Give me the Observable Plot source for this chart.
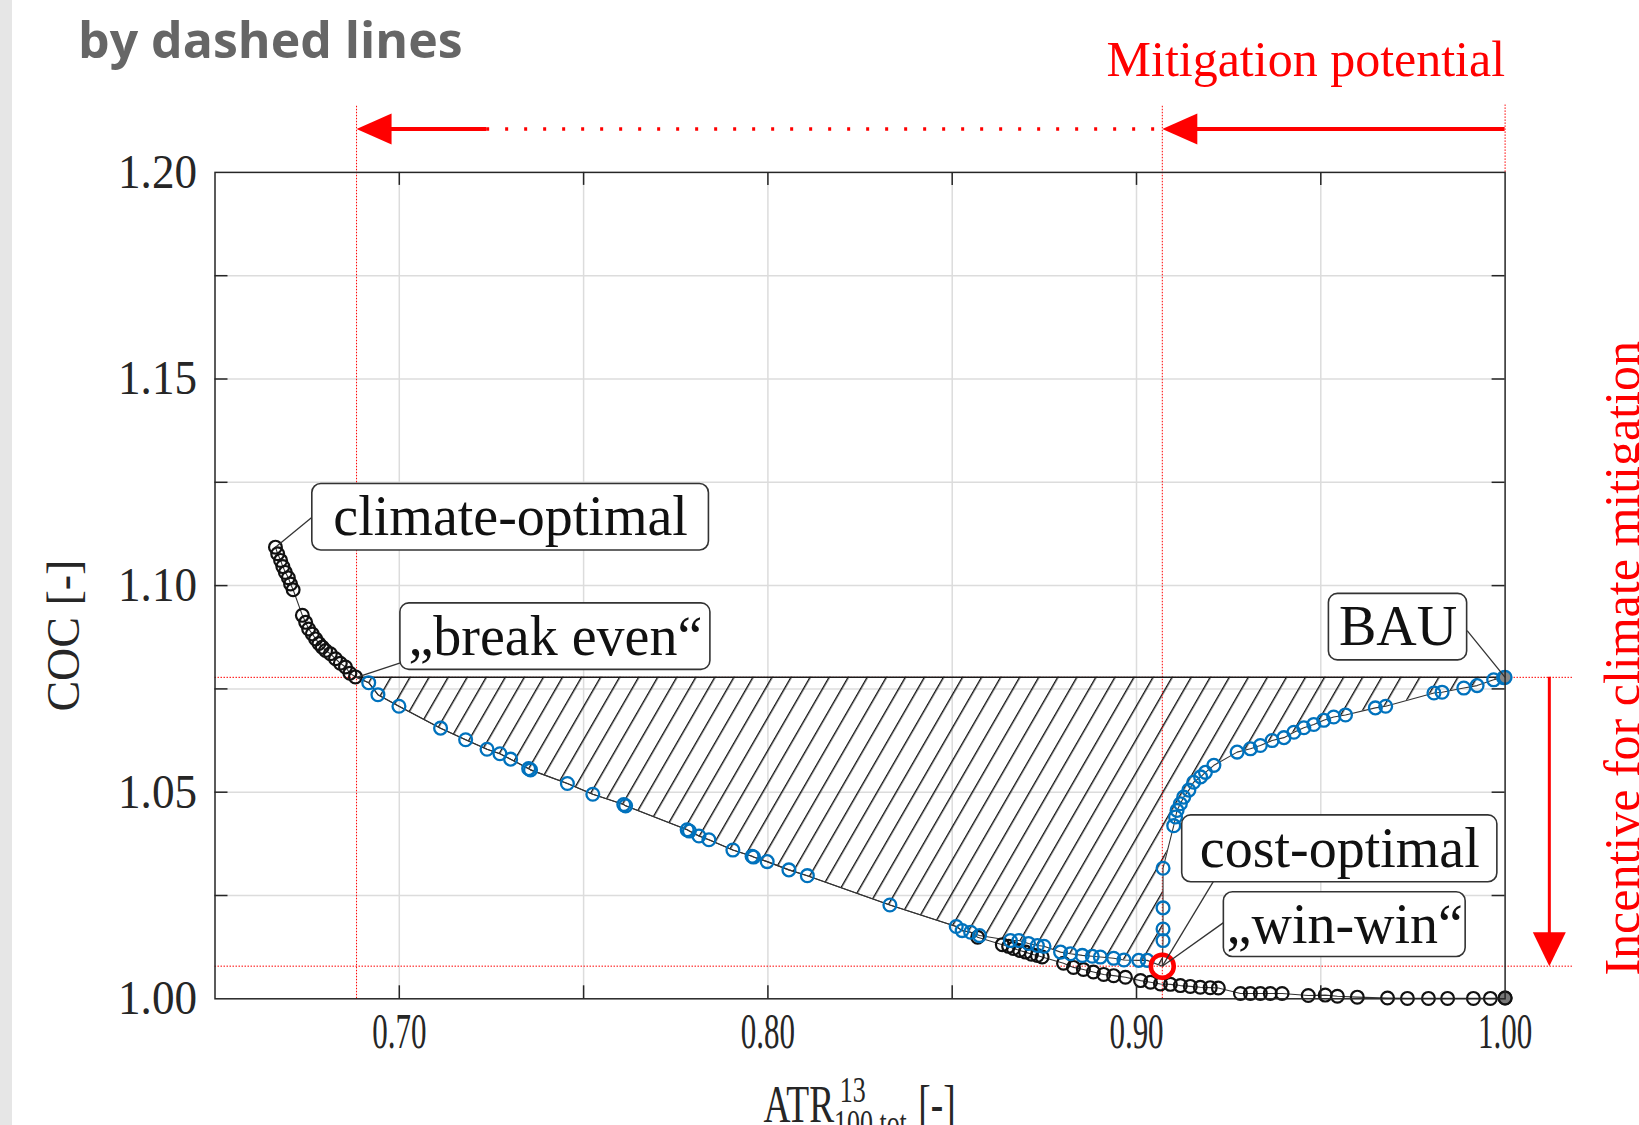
<!DOCTYPE html>
<html><head><meta charset="utf-8">
<script src="https://cdn.jsdelivr.net/npm/d3@7"></script>
<script src="https://cdn.jsdelivr.net/npm/@observablehq/plot@0.6"></script>
<style>
html,body{margin:0;padding:0;background:#fff;width:1639px;height:1125px;overflow:hidden;}
#wrap{position:relative;width:1639px;height:1125px;}
#bar{position:absolute;left:0;top:0;width:12px;height:1125px;background:#e6e6e6;}
#title{position:absolute;left:78px;top:11px;font-family:"Open Sans";font-weight:700;font-size:50px;line-height:56px;color:#666;white-space:nowrap;}
#chart{position:absolute;left:0;top:0;}
</style></head>
<body><div id="wrap"><div id="bar"></div><div id="chart"></div><div id="title">by dashed lines</div></div>
<script>
// ---------- data ----------
const xTickLabels = [0.70, 0.80, 0.90, 1.00];
const xGrid = [0.70, 0.75, 0.80, 0.85, 0.90, 0.95];
const yTickLabels = [1.00, 1.05, 1.10, 1.15, 1.20];
const yGrid = [1.025, 1.05, 1.075, 1.10, 1.125, 1.15, 1.175];

const breakEven = [0.6884, 1.0778];
const bau = [1.0, 1.0778];
const winWin = [0.907, 1.0079];
const incentiveX = 1.012;

// blue front, left branch (break even -> win-win)
const blueLeft = [
 [0.6917,1.0765],[0.6942,1.0736],[0.6999,1.0708],[0.7112,1.0655],[0.7180,1.0627],[0.7238,1.0604],
 [0.7273,1.0593],[0.7302,1.0580],[0.7351,1.0557],[0.7356,1.0554],[0.7456,1.0521],[0.7525,1.0495],
 [0.7609,1.0470],[0.7614,1.0467],[0.7781,1.0409],[0.7787,1.0406],[0.7813,1.0394],[0.7840,1.0385],
 [0.7905,1.0360],[0.7957,1.0345],[0.7961,1.0343],[0.7998,1.0332],[0.8057,1.0312],[0.8107,1.0298],
 [0.8331,1.0227],[0.8511,1.0175],[0.8527,1.0165],[0.8550,1.0161],[0.8574,1.0153],[0.8658,1.0141],
 [0.8681,1.0141],[0.8707,1.0134],[0.8731,1.0129],[0.8749,1.0127],[0.8794,1.0113],[0.8821,1.0109],
 [0.8853,1.0105],[0.8880,1.0103],[0.8902,1.0101],[0.8938,1.0098],[0.8966,1.0094],[0.9006,1.0093],
 [0.9029,1.0093]
];
// blue front, right branch (win-win -> BAU)
const blueRight = [
 [0.9072,1.0141],[0.9072,1.0169],[0.9072,1.0220],[0.9072,1.0316],[0.9101,1.0419],[0.9106,1.0440],
 [0.9110,1.0456],[0.9119,1.0472],[0.9128,1.0488],[0.9142,1.0505],[0.9155,1.0524],[0.9174,1.0537],
 [0.9187,1.0548],[0.9210,1.0565],[0.9273,1.0597],[0.9309,1.0605],[0.9336,1.0613],[0.9368,1.0625],
 [0.9400,1.0632],[0.9427,1.0645],[0.9454,1.0656],[0.9481,1.0664],[0.9508,1.0674],[0.9535,1.0682],
 [0.9567,1.0687],[0.9648,1.0704],[0.9676,1.0708],[0.9807,1.0740],[0.9829,1.0742],[0.9888,1.0752],
 [0.9924,1.0758],[0.9969,1.0772],[0.9996,1.0777]
];
// black front, upper part (climate-optimal -> break even)
const blackUpper = [
 [0.6664,1.1093],[0.6670,1.1077],[0.6678,1.1061],[0.6684,1.1046],[0.6691,1.1032],[0.6699,1.1019],
 [0.6705,1.1004],[0.6712,1.0990],[0.6737,1.0928],[0.6746,1.0911],[0.6754,1.0895],[0.6764,1.0883],
 [0.6773,1.0871],[0.6782,1.0860],[0.6791,1.0851],[0.6800,1.0843],[0.6813,1.0835],[0.6827,1.0823],
 [0.6840,1.0812],[0.6854,1.0803],[0.6866,1.0788],[0.6881,1.0779]
];
// black front, lower part (-> cost-optimal end)
const blackLower = [
 [0.8569,1.0149],[0.8636,1.0131],[0.8653,1.0127],[0.8666,1.0122],[0.8683,1.0117],[0.8699,1.0113],
 [0.8715,1.0108],[0.8731,1.0105],[0.8744,1.0101],[0.8802,1.0086],[0.8829,1.0076],[0.8856,1.0071],
 [0.8883,1.0065],[0.8911,1.0059],[0.8938,1.0056],[0.8970,1.0052],[0.9011,1.0044],[0.9038,1.0040],
 [0.9065,1.0036],[0.9092,1.0035],[0.9119,1.0032],[0.9146,1.0030],[0.9173,1.0028],[0.9200,1.0027],
 [0.9222,1.0026],[0.9282,1.0013],[0.9309,1.0013],[0.9336,1.0013],[0.9363,1.0013],[0.9395,1.0013],
 [0.9466,1.0008],[0.9512,1.0009],[0.9545,1.0006],[0.9599,1.0004],[0.9681,1.0002],[0.9735,1.0001],
 [0.9792,1.0001],[0.9844,1.0001],[0.9914,1.0001],[0.9960,1.0001],[1.0000,1.0002]
];
const labels = ["climate-optimal", "\u201Ebreak even\u201C", "BAU", "cost-optimal", "\u201Ewin-win\u201C"];
const annotationTargets = [blackUpper[0], breakEven, bau, winWin, winWin];
// ---------- layout ----------
const annotationLayout = [
 {lx:0.6764, ly:1.1166, bx1:0.6764, bx2:0.7840, by1:1.1085, by2:1.1246},
 {lx:0.7003, ly:1.0813, bx1:0.7003, bx2:0.7844, by1:1.0796, by2:1.0957},
 {lx:0.9897, ly:1.0891, bx1:0.9522, bx2:0.9897, by1:1.0819, by2:1.0980},
 {lx:0.9210, ly:1.0286, bx1:0.9124, bx2:0.9979, by1:1.0282, by2:1.0444},
 {lx:0.9237, ly:1.0185, bx1:0.9237, bx2:0.9893, by1:1.0101, by2:1.0258}
];
const annotations = labels.map((label, i) => ({label, px: annotationTargets[i][0], py: annotationTargets[i][1], ...annotationLayout[i]}));
const arrowY = 1.2105, guideTop = 1.2163, dottedStart = 0.7237, hLineEnd = 1.0186;

const W = 1639, H = 1125;
const mL = 214.5, mR = 134.4, mT = 171.9, mB = 126.7;
const frameW = W - mL - mR, frameH = H - mT - mB, tickLen = 13;
const red = "#ff0000", blue = "#0072BD", ink = "#1a1a1a";
const serif = '"Liberation Serif", "DejaVu Serif", serif';

const bluePath = [breakEven, ...blueLeft, winWin, ...blueRight];
const blackPath = [...blackUpper, ...blueLeft.slice(0, 28), ...blackLower];
const blueDots = [...blueLeft, ...blueRight];
const blackDots = [...blackUpper, ...blackLower];

const triLeft = {draw(ctx){ ctx.moveTo(0,0); ctx.lineTo(35,-15.5); ctx.lineTo(35,15.5); ctx.closePath(); }};
const triDown = {draw(ctx){ ctx.moveTo(0,0); ctx.lineTo(-16.5,-34); ctx.lineTo(16.5,-34); ctx.closePath(); }};

const hatchDefs = () => {
  const ns = "http://www.w3.org/2000/svg";
  const defs = document.createElementNS(ns, "defs");
  defs.innerHTML = `<pattern id="hatch" patternUnits="userSpaceOnUse" width="16.5" height="16.5" patternTransform="rotate(30)"><line x1="0.7" y1="-2" x2="0.7" y2="18.5" stroke="#111" stroke-width="1.4"/></pattern>`;
  return defs;
};
const X = d => d[0], Y = d => d[1];
const dotted = {stroke: red, strokeWidth: 1, strokeDasharray: "1.5,1.5"};

const svg = Plot.plot({
  width: W, height: H,
  marginLeft: mL, marginRight: mR, marginTop: mT, marginBottom: mB,
  style: {background: "transparent", overflow: "visible", fontFamily: serif},
  x: {domain: [0.65, 1.0], axis: null},
  y: {domain: [1.0, 1.2], axis: null},
  marks: [
    hatchDefs,
    Plot.ruleX(xGrid, {stroke: "#dcdcdc", strokeWidth: 1.5}),
    Plot.ruleY(yGrid, {stroke: "#dcdcdc", strokeWidth: 1.5}),
    Plot.areaY(bluePath, {x: X, y1: Y, y2: () => bau[1], fill: "url(#hatch)"}),
    Plot.ruleX([breakEven[0], winWin[0]], {y1: 1.0, y2: guideTop, ...dotted}),
    Plot.ruleX([bau[0]], {y1: 1.2, y2: guideTop, ...dotted}),
    Plot.ruleY([bau[1], winWin[1]], {x1: 0.65, x2: hLineEnd, ...dotted}),
    Plot.ruleY([bau[1]], {x1: breakEven[0], x2: bau[0], stroke: ink, strokeWidth: 1.5}),
    Plot.line(blackPath, {x: X, y: Y, stroke: "#333", strokeWidth: 1.1}),
    Plot.line(bluePath, {x: X, y: Y, stroke: "#333", strokeWidth: 1.1}),
    Plot.dot(blackDots, {x: X, y: Y, r: 6.4, stroke: "#111", strokeWidth: 2.2}),
    Plot.dot([blackLower[blackLower.length - 1]], {x: X, y: Y, r: 6.4, fill: "#777", stroke: "#111", strokeWidth: 2.2}),
    Plot.dot(blueDots, {x: X, y: Y, r: 6.4, stroke: blue, strokeWidth: 2.3}),
    Plot.dot([bau], {x: X, y: Y, r: 6.4, fill: "#888", stroke: blue, strokeWidth: 2.3}),
    Plot.dot([winWin], {x: X, y: Y, r: 11.5, stroke: red, strokeWidth: 4.5}),
    Plot.link(annotations, {x1: "px", y1: "py", x2: "lx", y2: "ly", stroke: "#333", strokeWidth: 1.3}),
    Plot.rect(annotations, {x1: "bx1", x2: "bx2", y1: "by1", y2: "by2", fill: "white", stroke: "#333", strokeWidth: 1.6, rx: 9}),
    Plot.text(annotations, {x: d => (d.bx1 + d.bx2) / 2, y: d => (d.by1 + d.by2) / 2, text: "label", fontSize: 56, fontFamily: serif, fill: "#111"}),
    Plot.frame({stroke: "#262626", strokeWidth: 1.5}),
    Plot.ruleX(xGrid, {insetTop: frameH - tickLen, stroke: "#262626", strokeWidth: 1.5}),
    Plot.ruleX(xGrid, {insetBottom: frameH - tickLen, stroke: "#262626", strokeWidth: 1.5}),
    Plot.ruleY(yGrid, {insetRight: frameW - tickLen, stroke: "#262626", strokeWidth: 1.5}),
    Plot.ruleY(yGrid, {insetLeft: frameW - tickLen, stroke: "#262626", strokeWidth: 1.5}),
    Plot.text(xTickLabels, {x: d => d, frameAnchor: "bottom", dy: 49, text: d => d.toFixed(2), fontSize: 50, fontFamily: serif, fill: "#262626", ariaDescription: "xticklabels"}),
    Plot.text(yTickLabels, {y: d => d, frameAnchor: "left", dx: -18, textAnchor: "end", text: d => d.toFixed(2), fontSize: 48, fontFamily: serif, fill: "#262626", ariaDescription: "yticklabels"}),
    Plot.text(["COC [-]"], {x: () => 0.6131, y: () => 1.0879, rotate: -90, lineAnchor: "bottom", text: d => d, fontSize: 46, fontFamily: serif, fill: "#262626"}),
    // red arrows
    Plot.ruleY([arrowY], {x1: winWin[0] + 0.003, x2: bau[0], stroke: red, strokeWidth: 4}),
    Plot.ruleY([arrowY], {x1: dottedStart, x2: winWin[0], stroke: red, strokeWidth: 3.5, strokeDasharray: "3,16"}),
    Plot.ruleY([arrowY], {x1: breakEven[0] + 0.003, x2: dottedStart, stroke: red, strokeWidth: 4}),
    Plot.dot([[winWin[0], arrowY], [breakEven[0], arrowY]], {x: X, y: Y, symbol: triLeft, fill: red, stroke: null}),
    Plot.ruleX([incentiveX], {y1: winWin[1] + 0.004, y2: bau[1], stroke: red, strokeWidth: 3}),
    Plot.dot([[incentiveX, winWin[1]]], {x: X, y: Y, symbol: triDown, fill: red, stroke: null}),
    Plot.text(["Mitigation potential"], {x: () => bau[0], y: () => 1.2234, textAnchor: "end", lineAnchor: "bottom", text: d => d, fontSize: 50, fontFamily: serif, fill: red}),
    Plot.text(["Incentive for climate mitigation"], {x: () => 1.0362, y: () => 1.0824, rotate: -90, lineAnchor: "bottom", text: d => d, fontSize: 50, fontFamily: serif, fill: red})
  ]
});
document.getElementById("chart").appendChild(svg);

function squeeze(sel, sx) {
  d3.select(svg).selectAll(sel).each(function() {
    const t = this.getAttribute("transform");
    if (t) this.setAttribute("transform", t + ` scale(${sx},1)`);
    else {
      const x = +this.getAttribute("x") || 0, y = +this.getAttribute("y") || 0;
      this.removeAttribute("x"); this.removeAttribute("y");
      this.setAttribute("transform", `translate(${x},${y}) scale(${sx},1)`);
    }
  });
}
squeeze('g[aria-description="xticklabels"] text', 0.62);
squeeze('g[aria-description="yticklabels"] text', 0.94);

// x axis label with super/subscript
const cx = mL + frameW / 2;
const xl = d3.select(svg).append("text")
  .attr("transform", `translate(${cx},1121.5) scale(0.72,1)`)
  .attr("text-anchor", "middle").attr("font-family", serif).attr("font-size", 52).attr("fill", "#262626");
xl.append("tspan").text("ATR");
xl.append("tspan").attr("font-size", 36).attr("dx", 8).attr("dy", -20).text("13");
xl.append("tspan").attr("font-size", 36).attr("dx", -44).attr("dy", 33).text("100,tot");
xl.append("tspan").attr("dx", 16).attr("dy", -13).text("[-]");
</script>
</body></html>
